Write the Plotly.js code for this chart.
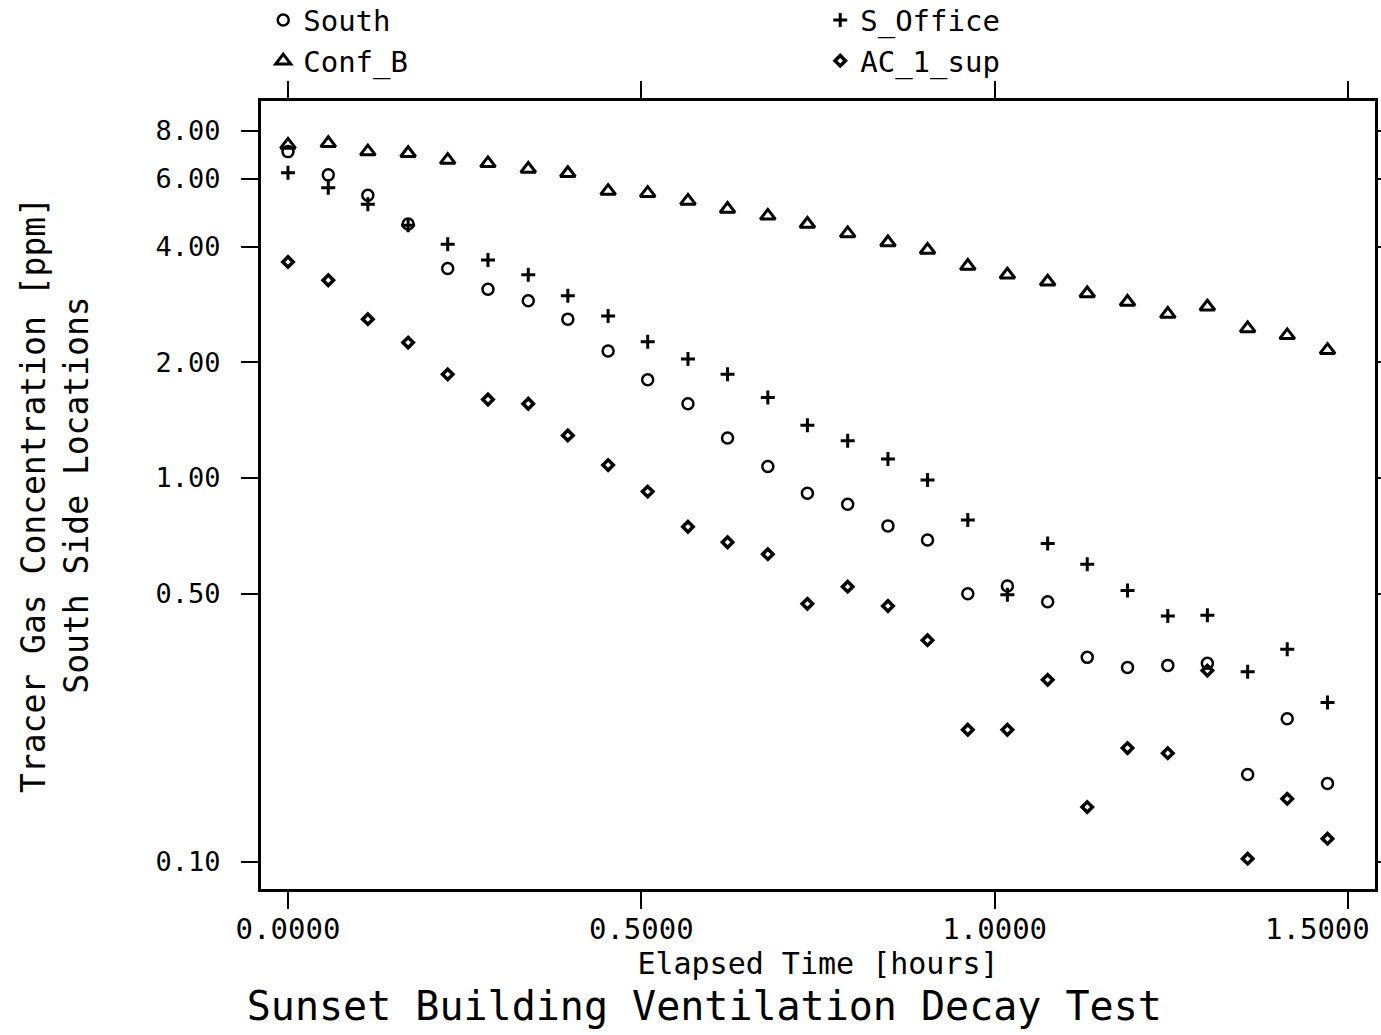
<!DOCTYPE html>
<html>
<head>
<meta charset="utf-8">
<script src="https://cdn.plot.ly/plotly-3.0.1.min.js"></script>
<style>html,body{margin:0;padding:0;background:#fff;}#chart{width:1381px;height:1035px;}</style>
</head>
<body>
<div id="chart"></div>
<script>
const hours = [0.000, 0.057, 0.113, 0.170, 0.226, 0.283, 0.340, 0.396, 0.453, 0.509, 0.566, 0.622, 0.679, 0.735, 0.792, 0.849, 0.905, 0.962, 1.018, 1.075, 1.131, 1.188, 1.245, 1.301, 1.358, 1.414, 1.471];
const south = [7.07, 6.15, 5.44, 4.58, 3.51, 3.10, 2.89, 2.59, 2.14, 1.80, 1.56, 1.27, 1.07, 0.912, 0.854, 0.750, 0.689, 0.499, 0.523, 0.476, 0.341, 0.321, 0.325, 0.329, 0.169, 0.236, 0.160];
const sOffice = [6.23, 5.69, 5.16, 4.55, 4.06, 3.69, 3.38, 2.98, 2.64, 2.26, 2.04, 1.86, 1.62, 1.37, 1.25, 1.12, 0.988, 0.777, 0.496, 0.675, 0.596, 0.509, 0.437, 0.439, 0.313, 0.358, 0.260];
const confB = [7.36, 7.43, 7.07, 7.00, 6.72, 6.59, 6.37, 6.21, 5.58, 5.51, 5.26, 5.01, 4.81, 4.58, 4.33, 4.10, 3.92, 3.56, 3.38, 3.24, 3.02, 2.87, 2.67, 2.79, 2.45, 2.35, 2.15];
const acSup = [3.65, 3.27, 2.59, 2.25, 1.86, 1.60, 1.56, 1.29, 1.08, 0.921, 0.746, 0.680, 0.633, 0.470, 0.521, 0.464, 0.378, 0.221, 0.221, 0.298, 0.139, 0.198, 0.192, 0.315, 0.102, 0.146, 0.115];

const xTickVals = [0, 0.5, 1.0, 1.5];
const xTickText = ['0.0000', '0.5000', '1.0000', '1.5000'];
const yTickVals = [0.1, 0.5, 1, 2, 4, 6, 8];
const yTickText = ['0.10', '0.50', '1.00', '2.00', '4.00', '6.00', '8.00'];

const FONT = '"DejaVu Sans Mono", "Liberation Mono", monospace';

const traces = [
  {x: hours, y: south, name: 'South', mode: 'markers', type: 'scatter', legend: 'legend',
   marker: {symbol: 'circle-open', size: 11, color: '#000', line: {width: 2.5, color: '#000'}}},
  {x: hours, y: confB, name: 'Conf_B', mode: 'markers', type: 'scatter', legend: 'legend',
   marker: {symbol: 'triangle-up-open', size: 13, color: '#000', line: {width: 3, color: '#000'}}},
  {x: hours, y: sOffice, name: 'S_Office', mode: 'markers', type: 'scatter', legend: 'legend2',
   marker: {symbol: 'cross-thin-open', size: 10, color: '#000', line: {width: 3, color: '#000'}}},
  {x: hours, y: acSup, name: 'AC_1_sup', mode: 'markers', type: 'scatter', legend: 'legend2',
   marker: {symbol: 'diamond-open', size: 8, color: '#000', line: {width: 3.5, color: '#000'}}}
];

// the last x tick label sits left of its tick in the reference so that it stays on the page
const lastTick = xTickVals.length - 1;
const shownTickText = xTickText.map((t, i) => i === lastTick ? '' : t);

const layout = {
  width: 1381, height: 1035,
  margin: {l: 261, r: 6, t: 101, b: 146, autoexpand: false},
  paper_bgcolor: '#fff', plot_bgcolor: '#fff',
  font: {family: FONT, color: '#000', size: 28},
  title: {text: 'Sunset Building Ventilation Decay Test', font: {family: FONT, size: 40, color: '#000'},
          x: 0.51, xanchor: 'center', xref: 'container', y: 0.028, yanchor: 'middle', yref: 'container'},
  xaxis: {
    type: 'linear', range: [-0.0382, 1.5382],
    tickmode: 'array', tickvals: xTickVals, ticktext: shownTickText,
    ticks: 'outside', ticklen: 17, tickwidth: 2, tickcolor: '#000',
    ticklabelstandoff: -5,
    showline: true, linewidth: 3, linecolor: '#000', mirror: 'ticks',
    showgrid: false, zeroline: false,
    tickfont: {family: FONT, size: 29, color: '#000'},
    title: {text: 'Elapsed Time [hours]', font: {family: FONT, size: 30, color: '#000'}, standoff: 2}
  },
  yaxis: {
    type: 'log', range: [-1.0703, 0.9812],
    tickmode: 'array', tickvals: yTickVals, ticktext: yTickText,
    ticks: 'outside', ticklen: 17, tickwidth: 2, tickcolor: '#000',
    ticklabelstandoff: 15,
    showline: true, linewidth: 3, linecolor: '#000', mirror: 'ticks',
    showgrid: false, zeroline: false,
    tickfont: {family: FONT, size: 27, color: '#000'},
    title: {text: 'Tracer Gas Concentration [ppm]<br>South Side Locations', font: {family: FONT, size: 33, color: '#000'}, standoff: 58}
  },
  annotations: [
    {text: xTickText[lastTick], x: xTickVals[lastTick], xref: 'x', xanchor: 'right', xshift: 24,
     y: 0, yref: 'paper', yanchor: 'middle', yshift: -40, showarrow: false,
     font: {family: FONT, size: 29, color: '#000'}}
  ],
  showlegend: true,
  legend: {x: 0.002, xanchor: 'left', y: 1.135, yanchor: 'top', orientation: 'v',
           font: {family: FONT, size: 29, color: '#000'}, bgcolor: 'rgba(0,0,0,0)', tracegroupgap: 0},
  legend2: {x: 0.502, xanchor: 'left', y: 1.135, yanchor: 'top', orientation: 'v',
           font: {family: FONT, size: 29, color: '#000'}, bgcolor: 'rgba(0,0,0,0)', tracegroupgap: 0}
};

Plotly.newPlot('chart', traces, layout, {displayModeBar: false, staticPlot: true});
</script>
</body>
</html>
